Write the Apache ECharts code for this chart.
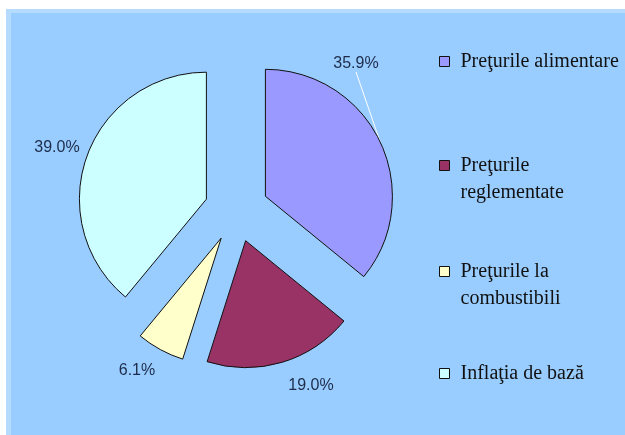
<!DOCTYPE html>
<html>
<head>
<meta charset="utf-8">
<script src="https://cdn.jsdelivr.net/npm/echarts@6/dist/echarts.min.js"></script>
<style>
html,body{margin:0;padding:0;background:#99CCFF;overflow:hidden;}
#chart{width:625px;height:435px;}
</style>
</head>
<body>
<div id="chart"></div>
<script>
const categories = ['Preţurile alimentare', 'Preţurile reglementate', 'Preţurile la combustibili', 'Inflaţia de bază'];
const values = [35.9, 19.0, 6.1, 39.0];
const legendTexts = ['Preţurile alimentare', '\nPreţurile\nreglementate', '\nPreţurile la\ncombustibili', 'Inflaţia de bază'];
const colors = ['#9999FF', '#993366', '#FFFFCC', '#CCFFFF'];

const labelPos = [[356, 64], [311, 386], [137, 371], [57, 148]];
const legendTops = [48, 125, 231, 360];
const pieCenter = [236.5, 210];
const explode = 32;

const chart = echarts.init(document.getElementById('chart'), null, {renderer: 'canvas'});

const total = values.reduce((a, b) => a + b, 0);

const legends = categories.map((c, i) => ({
  data: [{name: c, itemStyle: {color: colors[i], borderColor: '#111', borderWidth: 1}}],
  left: 439,
  top: legendTops[i],
  padding: 0,
  orient: 'vertical',
  icon: 'rect',
  itemWidth: 10,
  itemHeight: 10,
  selectedMode: false,
  formatter: () => legendTexts[i],
  textStyle: {
    fontFamily: 'Liberation Serif',
    fontSize: 20,
    color: '#111',
    lineHeight: 27,
    padding: [0, 0, 0, 6]
  }
}));

// one pie series per slice, each shifted outward along its own mid-angle
let cum = 0;
const series = categories.map((c, i) => {
  const mid = (cum + values[i] / 2) / total * 2 * Math.PI;
  cum += values[i];
  const center = [pieCenter[0] + explode * Math.sin(mid), pieCenter[1] - explode * Math.cos(mid)];
  return {
    type: 'pie',
    name: c,
    center: center,
    radius: 127,
    startAngle: 90,
    clockwise: true,
    silent: true,
    selectedMode: false,
    avoidLabelOverlap: false,
    emphasis: {disabled: true},
    label: {
      show: true,
      position: 'outside',
      fontFamily: 'Liberation Sans',
      fontSize: 16,
      color: '#1c2c4a',
      formatter: p => values[p.dataIndex].toFixed(1) + '%'
    },
    labelLine: {show: false},
    labelLayout: p => (p.dataIndex === i ? {
      x: labelPos[i][0],
      y: labelPos[i][1],
      align: 'center',
      verticalAlign: 'middle'
    } : {}),
    data: categories.map((n, j) => (j === i ? {
      name: n,
      value: values[j],
      itemStyle: {color: colors[j], borderColor: '#111', borderWidth: 1},
      labelLine: j === 0 ? {show: true, length: 10, length2: 0, lineStyle: {color: '#ffffff', width: 1}} : {show: false}
    } : {
      name: n,
      value: values[j],
      itemStyle: {color: 'rgba(0,0,0,0)', borderWidth: 0},
      label: {show: false},
      labelLine: {show: false}
    }))
  };
});

chart.setOption({
  backgroundColor: '#99CCFF',
  animation: false,
  graphic: [
    {type: 'rect', z: -10, silent: true, shape: {x: 0, y: 0, width: 625, height: 13}, style: {fill: '#B5DBFF'}},
    {type: 'rect', z: -10, silent: true, shape: {x: 0, y: 0, width: 11, height: 435}, style: {fill: '#B5DBFF'}},
    {type: 'rect', z: -9, silent: true, shape: {x: 0, y: 0, width: 625, height: 9}, style: {fill: '#ffffff'}},
    {type: 'rect', z: -9, silent: true, shape: {x: 0, y: 0, width: 6, height: 435}, style: {fill: '#ffffff'}}
  ],
  legend: legends,
  series: series
});
</script>
</body>
</html>
